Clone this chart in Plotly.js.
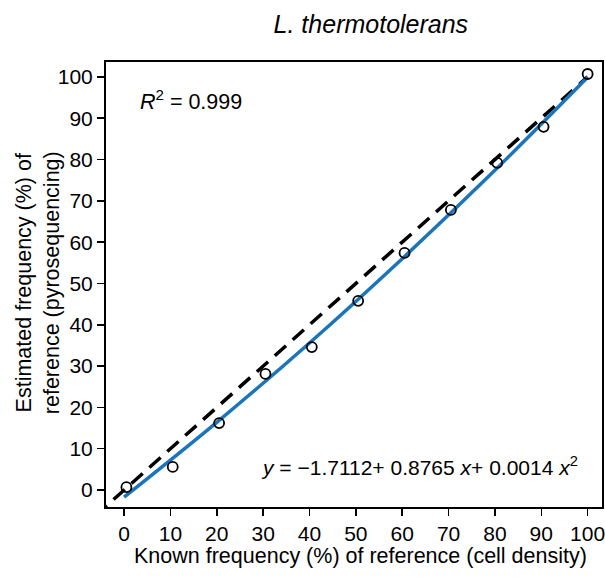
<!DOCTYPE html>
<html>
<head>
<meta charset="utf-8">
<script src="https://cdn.plot.ly/plotly-3.0.1.min.js"></script>
<style>html,body{margin:0;padding:0;background:#fff;}#chart{width:605px;height:577px;}</style>
</head>
<body>
<div id="chart"></div>
<script>
const knownFreq = [0.5, 10.5, 20.5, 30.5, 40.5, 50.5, 60.5, 70.5, 80.5, 90.5, 100];
const estimatedFreq = [0.7, 5.6, 16.2, 28.1, 34.6, 45.8, 57.4, 67.8, 79.2, 87.9, 100.7];

// Fitted quadratic curve
const fitX = [0, 20, 40, 60, 80, 100];
const fitY = [-1.7, 16.4, 35.6, 56.0, 77.4, 99.9];

// Identity line y = x
const identX = [-10, 100];
const identY = [-10, 100];

const tickVals = [0, 10, 20, 30, 40, 50, 60, 70, 80, 90, 100];
const tickText = ['0','10','20','30','40','50','60','70','80','90','100'];

const FONT = 'Liberation Sans, Arial, sans-serif';

const traces = [
  {x: identX, y: identY, mode: 'lines', line: {color: '#000', width: 3.5, dash: '15px,9px'}, hoverinfo: 'skip'},
  {x: fitX, y: fitY, mode: 'lines', line: {color: '#1b75bc', width: 3.5, shape: 'spline'}, hoverinfo: 'skip'},
  {x: knownFreq, y: estimatedFreq, mode: 'markers',
   marker: {symbol: 'circle-open', size: 10, color: '#000', line: {color: '#000', width: 1.8}}}
];

const axisCommon = {
  showgrid: false, zeroline: false, showline: true, mirror: true,
  linecolor: '#000', linewidth: 2,
  ticks: 'outside', ticklen: 7, tickwidth: 1.5, tickcolor: '#000',
  tickvals: tickVals, ticktext: tickText,
  ticklabeloverflow: 'allow',
  tickfont: {family: FONT, size: 21, color: '#000'}
};

const layout = {
  width: 605, height: 577,
  margin: {l: 106, r: 3, t: 62, b: 70},
  paper_bgcolor: '#fff', plot_bgcolor: '#fff',
  showlegend: false,
  title: {text: '<i>L. thermotolerans</i>', font: {family: FONT, size: 25, color: '#000'},
          x: 0.613, xanchor: 'center', y: 0.958, yanchor: 'middle'},
  xaxis: Object.assign({}, axisCommon, {range: [-3.9, 103.1]}),
  yaxis: Object.assign({}, axisCommon, {range: [-4.1, 103.6]}),
  annotations: [
    {xref: 'paper', yref: 'paper', x: 0.514, y: -0.11, xanchor: 'center', yanchor: 'middle',
     text: 'Known frequency (%) of reference (cell density)', showarrow: false,
     font: {family: FONT, size: 21.5, color: '#000'}},
    {xref: 'paper', yref: 'paper', x: -0.137, y: 0.503, xanchor: 'center', yanchor: 'middle',
     text: 'Estimated frequency (%) of<br>reference (pyrosequencing)', textangle: -90, showarrow: false,
     font: {family: FONT, size: 21.5, color: '#000'}},
    {xref: 'paper', yref: 'paper', x: 0.065, y: 0.915, xanchor: 'left', yanchor: 'middle',
     text: '<i>R</i><sup>2</sup> = 0.999', showarrow: false, font: {family: FONT, size: 21.5, color: '#000'}},
    {xref: 'paper', yref: 'paper', x: 0.955, y: 0.092, xanchor: 'right', yanchor: 'middle',
     text: '<i>y</i> = −1.7112+ 0.8765 <i>x</i>+ 0.0014 <i>x</i><sup>2</sup>', showarrow: false,
     font: {family: FONT, size: 21, color: '#000'}}
  ]
};

Plotly.newPlot('chart', traces, layout, {displayModeBar: false, staticPlot: true});
</script>
</body>
</html>
